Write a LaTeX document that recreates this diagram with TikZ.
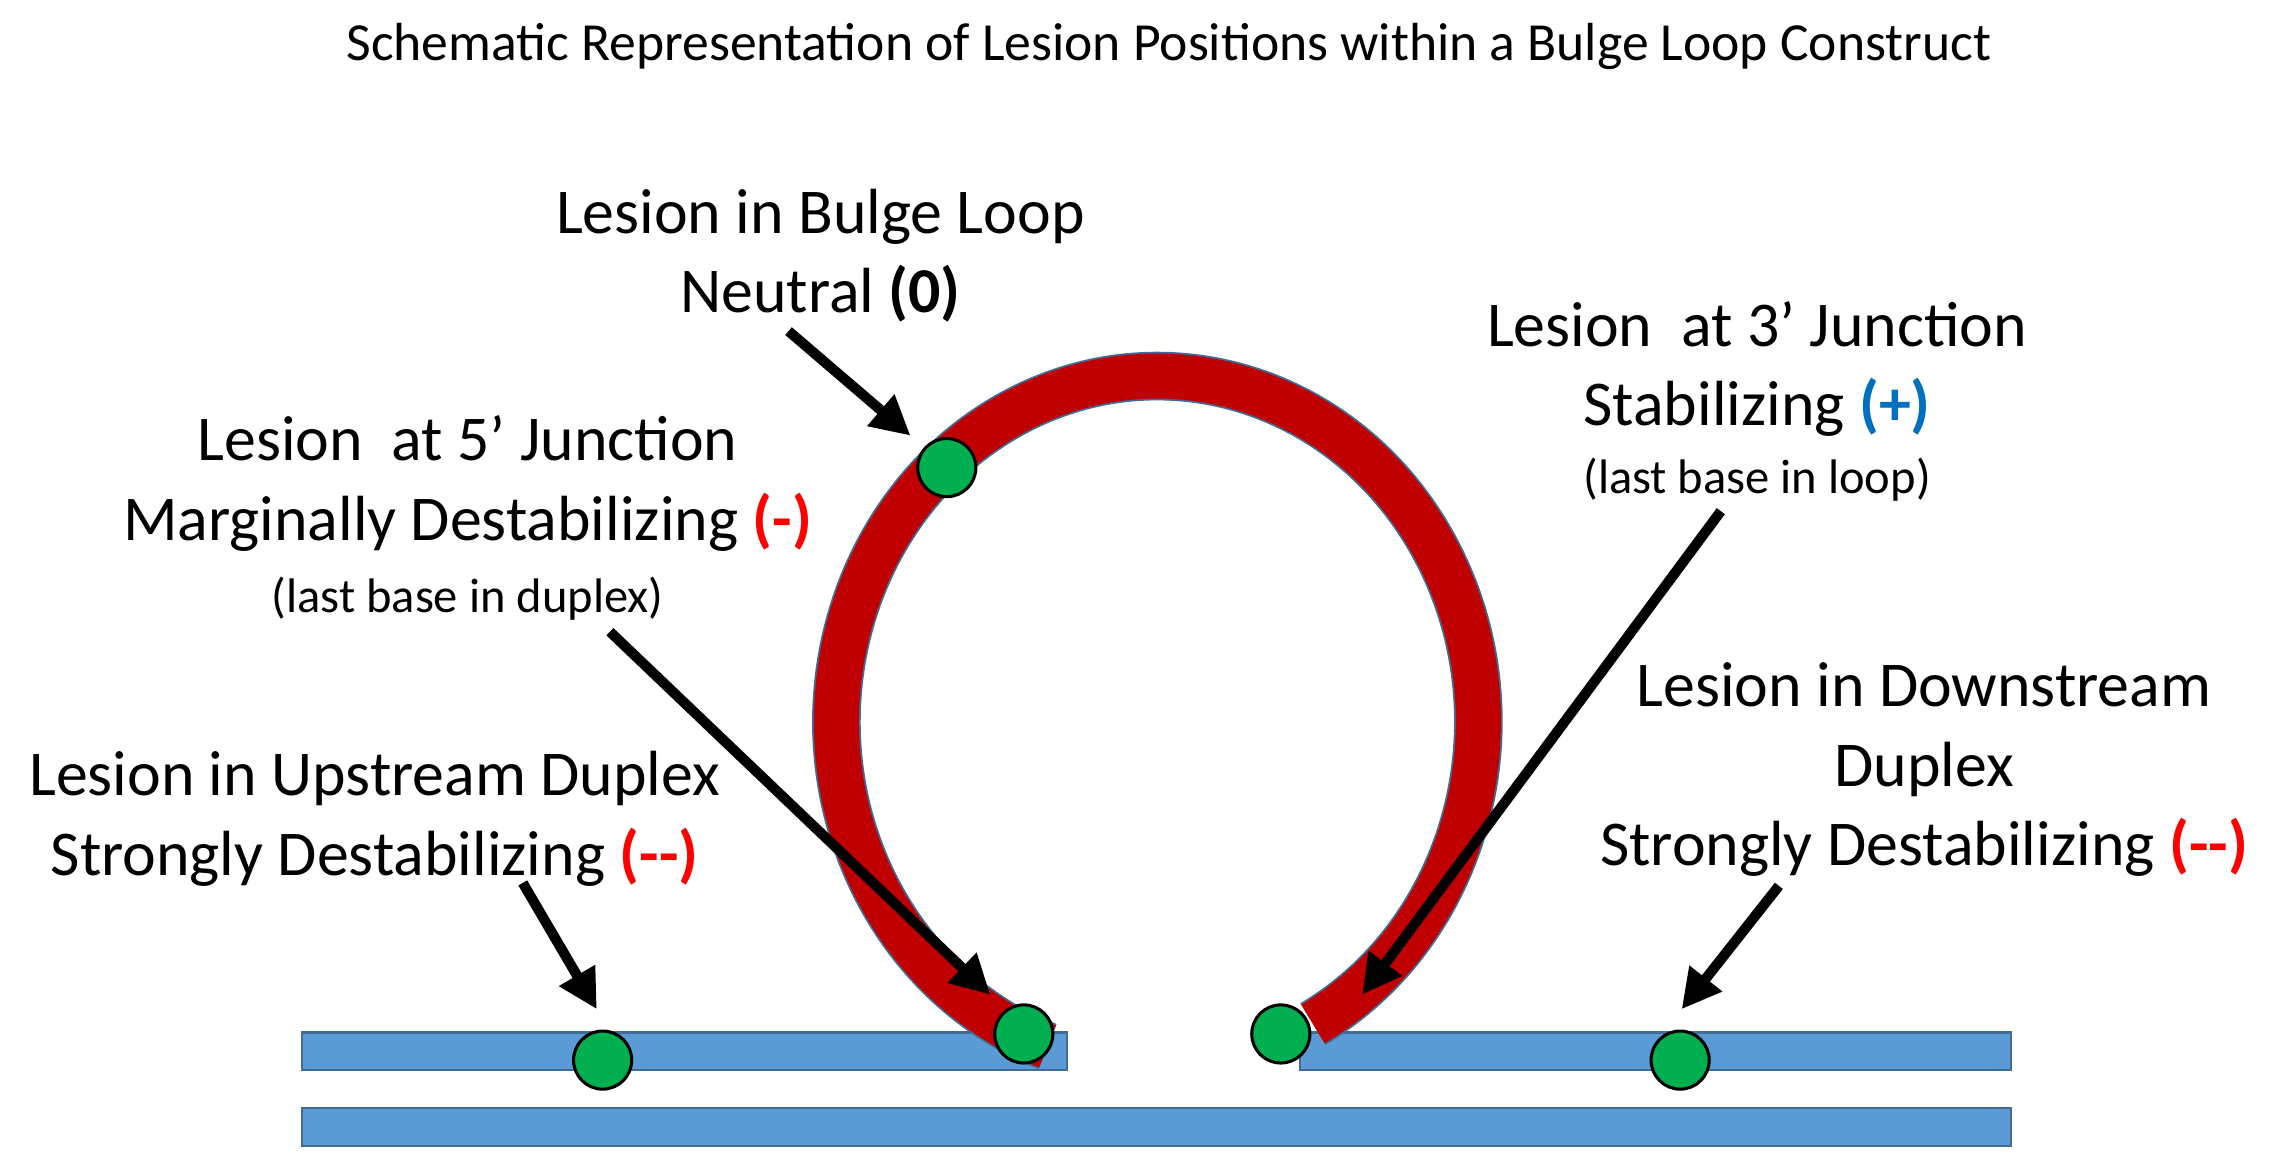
\documentclass[tikz,border=0pt]{standalone}
\usepackage{fontspec}
\setmainfont{Carlito}
\usetikzlibrary{arrows.meta}
\definecolor{dblue}{HTML}{5B9BD5}
\definecolor{dred}{HTML}{C00000}
\definecolor{lgreen}{HTML}{00B050}
\definecolor{pblue}{HTML}{0070C0}
\definecolor{pred}{HTML}{FF0000}
\begin{document}
\begin{tikzpicture}[x=0.01cm,y=-0.01cm,
  lbl/.style={align=center,font=\fontsize{12.5}{15.6}\selectfont},
  sm/.style={font=\fontsize{9.5}{11}\selectfont},
  bar/.style={fill=dblue,draw=dblue!70!black,line width=0.4pt},
  les/.style={circle,fill=lgreen,draw=black,line width=0.6pt,minimum size=0.4cm,inner sep=0pt},
  arr/.style={line width=0.07cm,-{Triangle[length=0.27cm,width=0.27cm]}}]
\useasboundingbox (0,0) rectangle (1568,808);
\node[font=\fontsize{10.5}{12}\selectfont] (title) at (805,32) {Schematic Representation of Lesion Positions within a Bulge Loop Construct};
% bars
\path[bar] (208,763) rectangle (1385,789);
\path[bar] (208,711) rectangle (735,737);
\path[bar] (895,711) rectangle (1385,737);
% loop
\draw[dblue!70!black,line width=0.335cm] (797,497) ++(61:221 and 238) arc[start angle=61,end angle=-250,x radius=221,y radius=238];
\draw[dred,line width=0.31cm] (797,497) ++(61:221 and 238) arc[start angle=61,end angle=-250,x radius=221,y radius=238];
% lesions
\node[les] (c1) at (652,322) {};
\node[les] (c2) at (705,712) {};
\node[les] (c3) at (882,712) {};
\node[les] (c4) at (415,730) {};
\node[les] (c5) at (1157,730) {};
% labels
\node[lbl] (t1) at (565,176) {Lesion in Bulge Loop\\Neutral \textbf{(0)}};
\node[lbl] (t2) at (322,333) {Lesion\ \ at 5’ Junction\\Marginally Destabilizing \textcolor{pred}{\textbf{(-)}}};
\node[sm] (t2b) at (322,412) {(last base in duplex)};
\node[lbl] (t3) at (1210,254) {Lesion\ \ at 3’ Junction\\Stabilizing \textcolor{pblue}{\textbf{(+)}}};
\node[sm] (t3b) at (1210,330) {(last base in loop)};
\node[lbl] (t4) at (258,564) {Lesion in Upstream Duplex\\Strongly Destabilizing \textcolor{pred}{\textbf{({-}{-})}}};
\node[lbl] (t5) at (1325,530) {Lesion in Downstream\\Duplex\\Strongly Destabilizing \textcolor{pred}{\textbf{({-}{-})}}};
% arrows
\coordinate (a1) at (543,228); \coordinate (b1) at (627,300);
\coordinate (a2) at (420,435); \coordinate (b2) at (682,685);
\coordinate (a3) at (1185,352); \coordinate (b3) at (938,685);
\coordinate (a4) at (360,608); \coordinate (b4) at (411,695);
\coordinate (a5) at (1225,610); \coordinate (b5) at (1158,695);
\draw[arr] (a1) -- (b1);
\draw[arr] (a2) -- (b2);
\draw[arr] (a3) -- (b3);
\draw[arr] (a4) -- (b4);
\draw[arr] (a5) -- (b5);
\end{tikzpicture}
\end{document}
